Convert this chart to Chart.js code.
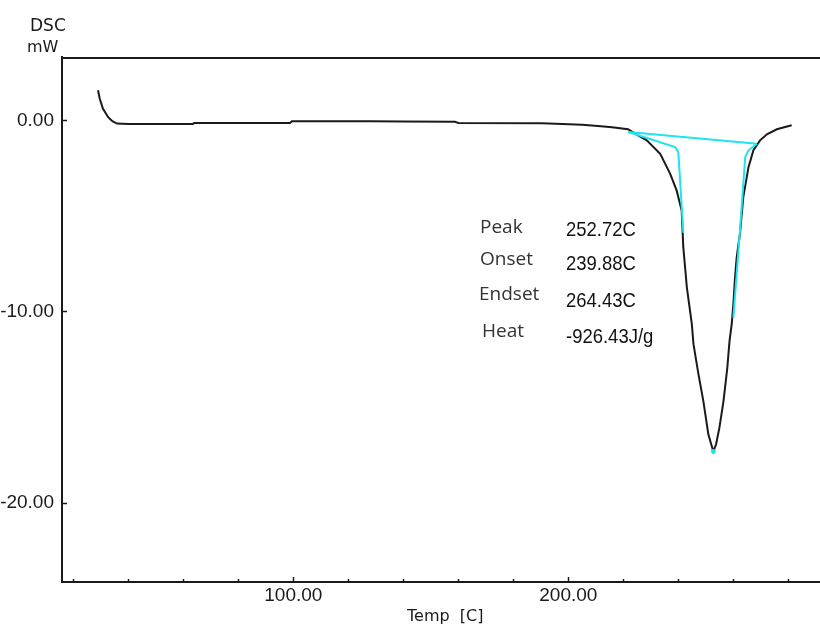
<!DOCTYPE html>
<html>
<head>
<meta charset="utf-8">
<script src="https://cdn.jsdelivr.net/npm/chart.js@4"></script>
<style>
  html, body { margin: 0; padding: 0; background: #fff; }
  #wrap { width: 820px; height: 626px; }
</style>
</head>
<body>
<div id="wrap"><canvas id="dsc" width="820" height="626"></canvas></div>
<script>
// main DSC trace
var temp = [29.0, 29.6, 30.8, 32.7, 34.2, 35.9, 40.0, 63.5, 64.0, 98.8, 99.5, 127.9, 140.0, 158.8, 160.0, 190.4,
  205.0, 210.8, 215.9, 221.7, 224.9, 228.5, 233.4, 237.0, 239.4, 241.2, 241.8, 243.1, 244.9, 245.5, 247.3, 249.1,
  250.9, 252.7, 253.7, 254.9, 256.4, 257.8, 258.6, 259.4, 260.0, 260.6, 261.2, 262.4, 263.6, 265.5, 267.3, 269.7,
  272.2, 275.8, 281.2];
var dsc = [1.57, 1.14, 0.60, 0.16, -0.05, -0.17, -0.19, -0.19, -0.14, -0.14, -0.05, -0.05, -0.06, -0.08, -0.14, -0.16,
  -0.23, -0.30, -0.36, -0.47, -0.75, -1.05, -1.75, -2.79, -3.68, -4.72, -6.65, -8.75, -10.66, -11.71, -13.28, -14.70,
  -16.43, -17.32, -16.96, -16.10, -14.70, -12.95, -11.55, -10.66, -9.61, -8.23, -7.18, -5.93, -4.03, -2.45, -1.57, -1.05,
  -0.73, -0.47, -0.26];

// analysis construction lines (cyan)
var baseT = [221.8, 268.6];
var baseY = [-0.61, -1.23];
var onsetT = [221.8, 238.8, 240.0, 241.8];
var onsetY = [-0.61, -1.40, -1.68, -5.88];
var endT = [268.6, 265.5, 264.3, 262.4, 260.0];
var endY = [-1.23, -1.57, -1.93, -5.77, -10.33];
var peakT = [252.72];
var peakY = [-17.32];

var statLabels = ["Peak", "Onset", "Endset", "Heat"];
var statValues = ["252.72C", "239.88C", "264.43C", "-926.43J/g"];

var xMin = 15.9, xMax = 291.5;
var yMin = -24.15, yMax = 3.31;

function pts(xs, ys) {
  var out = [];
  for (var i = 0; i < xs.length; i++) out.push({x: xs[i], y: ys[i]});
  return out;
}

var ink = "#1a1a1a";
var cyan = "#1ee3f0";
var numFont = "'Liberation Sans', Arial, sans-serif";

var decor = {
  id: "decor",
  afterDatasetsDraw: function(chart) {
    var ctx = chart.ctx, a = chart.chartArea;
    var xs = chart.scales.x, ys = chart.scales.y;
    ctx.save();
    ctx.strokeStyle = ink;
    ctx.lineWidth = 2;
    // top frame line
    ctx.beginPath();
    ctx.moveTo(a.left, a.top + 1);
    ctx.lineTo(a.right, a.top + 1);
    ctx.stroke();
    // inward tick marks
    ctx.lineWidth = 1.5;
    xs.ticks.forEach(function(t) {
      var px = Math.round(xs.getPixelForValue(t.value)) + 0.5;
      var len = (t.value % 100 === 0) ? 5 : 3;
      ctx.beginPath();
      ctx.moveTo(px, a.bottom);
      ctx.lineTo(px, a.bottom - len);
      ctx.stroke();
    });
    ys.ticks.forEach(function(t) {
      var py = Math.round(ys.getPixelForValue(t.value)) + 0.5;
      ctx.beginPath();
      ctx.moveTo(a.left, py);
      ctx.lineTo(a.left + 5, py);
      ctx.stroke();
    });
    // axis captions
    ctx.fillStyle = ink;
    ctx.textBaseline = "alphabetic";
    ctx.textAlign = "left";
    ctx.font = "17px 'DejaVu Sans'";
    ctx.fillText("DSC", 30, 31);
    ctx.font = "16px 'DejaVu Sans'";
    ctx.fillText("mW", 27, 52);
    ctx.fillText("Temp  [C]", 407, 621);
    // peak analysis results
    var lx = [480, 480, 479, 482];
    var lb = [233, 265, 300, 337];
    var vb = [236, 270, 307, 343];
    for (var i = 0; i < statLabels.length; i++) {
      ctx.fillStyle = "#333";
      ctx.font = "19px 'Open Sans'";
      ctx.fillText(statLabels[i], lx[i], lb[i]);
      ctx.save();
      ctx.fillStyle = "#111";
      ctx.font = "21px " + numFont;
      ctx.translate(566, vb[i]);
      ctx.scale(0.88, 1);
      ctx.fillText(statValues[i], 0, 0);
      ctx.restore();
    }
    ctx.restore();
  }
};

new Chart(document.getElementById("dsc"), {
  type: "line",
  data: {
    datasets: [
      { data: pts(temp, dsc), borderColor: ink, borderWidth: 2, order: 3 },
      { data: pts(baseT, baseY), borderColor: cyan, borderWidth: 2, order: 1 },
      { data: pts(onsetT, onsetY), borderColor: cyan, borderWidth: 2, order: 1 },
      { data: pts(endT, endY), borderColor: cyan, borderWidth: 2, order: 1 },
      { data: pts(peakT, peakY), borderColor: cyan, backgroundColor: cyan, pointRadius: 2, showLine: false, order: 1 }
    ]
  },
  options: {
    responsive: false,
    animation: false,
    parsing: false,
    elements: { point: { radius: 0, hoverRadius: 0, hitRadius: 0 }, line: { tension: 0 } },
    layout: { autoPadding: false, padding: { top: 57, left: 0, right: 0, bottom: 0 } },
    plugins: { legend: { display: false }, tooltip: { enabled: false } },
    scales: {
      x: {
        type: "linear",
        min: xMin, max: xMax,
        grid: { display: false },
        border: { display: true, color: ink, width: 2 },
        ticks: {
          stepSize: 20, includeBounds: false, autoSkip: false, maxRotation: 0, padding: -6,
          color: ink,
          font: { family: numFont, size: 19 },
          callback: function(v) { return v % 100 === 0 ? v.toFixed(2) : ""; }
        },
        afterFit: function(s) { s.height = 44; s.paddingLeft = 0; s.paddingRight = 0; }
      },
      y: {
        min: yMin, max: yMax,
        grid: { display: false },
        border: { display: true, color: ink, width: 2 },
        ticks: {
          stepSize: 10, includeBounds: false, padding: 0,
          color: ink,
          font: { family: numFont, size: 19 },
          callback: function(v) { return v % 10 === 0 ? v.toFixed(2) : ""; }
        },
        afterFit: function(s) { s.width = 62; s.paddingTop = 0; s.paddingBottom = 0; }
      }
    }
  },
  plugins: [decor]
});
</script>
</body>
</html>
